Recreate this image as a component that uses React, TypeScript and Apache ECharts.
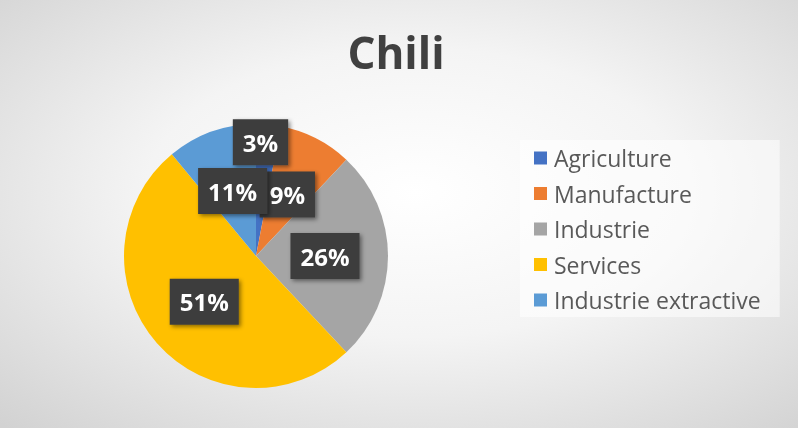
import React, { useEffect, useRef } from "react";
import * as echarts from "echarts";

const titleText = "Chili";
const categories = ["Agriculture", "Manufacture", "Industrie", "Services", "Industrie extractive"];
const values = [3, 9, 26, 51, 11];
const colors = ["#4472C4", "#ED7D31", "#A5A5A5", "#FFC000", "#5B9BD5"];

export default function App() {
  const ref = useRef<HTMLDivElement>(null);
  useEffect(() => {
    if (!ref.current) return;
    const chart = echarts.init(ref.current, undefined, { renderer: "svg" });
    const font = "'Open Sans', 'Noto Sans', sans-serif";
    chart.setOption({
      animation: false,
      backgroundColor: {
        type: "radial",
        x: 0.52,
        y: 0.45,
        r: 0.75,
        colorStops: [
          { offset: 0, color: "#ffffff" },
          { offset: 0.45, color: "#f4f4f4" },
          { offset: 1, color: "#d2d2d2" },
        ],
      },
      title: {
        text: titleText,
        left: 391,
        top: 25,
        textAlign: "center",
        textStyle: { fontFamily: font, fontSize: 44, fontWeight: "bold", color: "#404040" },
      },
      legend: {
        orient: "vertical",
        left: 520,
        top: 140,
        padding: [6, 19, 5, 14],
        backgroundColor: "rgba(255,255,255,0.55)",
        itemWidth: 13,
        itemHeight: 13,
        itemGap: 11.5,
        icon: "rect",
        data: categories,
        textStyle: { fontFamily: font, fontSize: 23, lineHeight: 24, color: "#595959", padding: [0, 0, 0, 2] },
      },
      series: [
        {
          type: "pie",
          center: [256, 256],
          radius: 132,
          startAngle: 90,
          clockwise: true,
          avoidLabelOverlap: false,
          data: categories.map((name, i) => ({ name, value: values[i], itemStyle: { color: colors[i] } })),
          label: {
            show: true,
            position: "inside",
            formatter: "{c}%",
            fontFamily: font,
            fontSize: 24,
            fontWeight: "bold",
            color: "#ffffff",
            backgroundColor: "#3d3d3d",
            padding: [11, 10, 11, 10],
            shadowColor: "rgba(0,0,0,0.45)",
            shadowBlur: 4,
            shadowOffsetX: 2,
            shadowOffsetY: 2,
          },
          labelLine: { show: false },
          labelLayout: (params: any) => (params.dataIndex === 0 ? { dy: -45, dx: -2 } : {}),
          emphasis: { disabled: true },
        },
      ],
    });
    return () => chart.dispose();
  }, []);
  return <div ref={ref} style={{ position: "fixed", left: 0, top: 0, width: 798, height: 428 }} />;
}
